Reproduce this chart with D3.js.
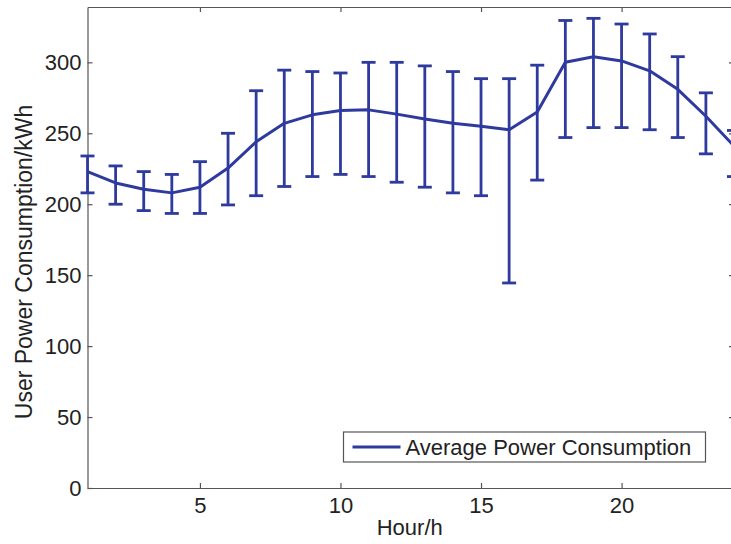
<!DOCTYPE html>
<html>
<head>
<meta charset="utf-8">
<script src="https://cdnjs.cloudflare.com/ajax/libs/d3/7.8.5/d3.min.js"></script>
<style>
  body { margin: 0; background: #fff; }
  svg { display: block; font-family: "Liberation Sans", Arial, sans-serif; }
  .axis text { fill: #222; font-size: 22px; }
  .axis path, .axis line { stroke: #555; stroke-width: 1.2; }
</style>
</head>
<body>
<script>
// hourly averages
let hours = [1, 2, 3, 4, 5, 6, 7, 8, 9, 10, 11, 12, 13, 14, 15, 16, 17, 18, 19, 20, 21, 22, 23, 24];
let meanVals  = [223, 215, 210.5, 208, 212, 225.5, 244, 257, 263, 266, 266.5, 263.5, 260, 257, 255, 252.5, 265, 300, 304, 301, 294, 281, 262, 241];
let upperVals = [234, 227, 223, 221, 230, 250, 280, 294.5, 293.5, 292.5, 300, 300, 297.5, 293.5, 288.5, 288.5, 298, 329.5, 331, 327, 320, 304, 278.5, 252];
let lowerVals = [208, 200, 195.5, 193.5, 193.5, 199.5, 206, 212.5, 219.5, 221, 219.5, 215.5, 212, 208, 206, 144.5, 217, 247, 254, 254, 252.5, 247, 235.5, 219.5];
let xTicks = [5, 10, 15, 20];
let yTicks = [0, 50, 100, 150, 200, 250, 300];
let seriesName = "Average Power Consumption";

let W = 731, H = 544;
let margin = {left: 87.5, top: 7, right: -3, bottom: 56};
let w = W - margin.left - margin.right;
let h = H - margin.top - margin.bottom;
let blue = "#2e3a9e";

let svg = d3.select("body").append("svg").attr("width", W).attr("height", H);
let g = svg.append("g").attr("transform", "translate(" + margin.left + "," + margin.top + ")");

let x = d3.scaleLinear().domain([1, 24]).range([0, w]);
let y = d3.scaleLinear().domain([0, 339]).range([h, 0]);

// axes with inward ticks on all four sides (matlab box)
g.append("g").attr("class", "axis")
  .attr("transform", "translate(0," + h + ")")
  .call(d3.axisBottom(x).tickValues(xTicks).tickSize(-5).tickPadding(9).tickSizeOuter(0));
g.append("g").attr("class", "axis")
  .call(d3.axisTop(x).tickValues(xTicks).tickSize(-5).tickFormat("").tickSizeOuter(0));
g.append("g").attr("class", "axis")
  .call(d3.axisLeft(y).tickValues(yTicks).tickSize(-5).tickPadding(6).tickSizeOuter(0));
g.append("g").attr("class", "axis")
  .attr("transform", "translate(" + w + ",0)")
  .call(d3.axisRight(y).tickValues(yTicks).tickSize(-5).tickFormat("").tickSizeOuter(0));

let data = hours.map((d, i) => ({hour: d, mean: meanVals[i], hi: upperVals[i], lo: lowerVals[i]}));

// error bars
let bars = g.append("g").selectAll("g").data(data).enter().append("g")
  .attr("stroke", blue).attr("stroke-width", 2.8);
bars.append("line")
  .attr("x1", d => x(d.hour)).attr("x2", d => x(d.hour))
  .attr("y1", d => y(d.hi)).attr("y2", d => y(d.lo));
bars.append("line")
  .attr("x1", d => x(d.hour) - 7).attr("x2", d => x(d.hour) + 7)
  .attr("y1", d => y(d.hi)).attr("y2", d => y(d.hi));
bars.append("line")
  .attr("x1", d => x(d.hour) - 7).attr("x2", d => x(d.hour) + 7)
  .attr("y1", d => y(d.lo)).attr("y2", d => y(d.lo));

let line = d3.line().x(d => x(d.hour)).y(d => y(d.mean));
g.append("path").datum(data)
  .attr("fill", "none").attr("stroke", blue).attr("stroke-width", 3)
  .attr("stroke-linejoin", "round")
  .attr("d", line);

// legend
let lg = svg.append("g").attr("transform", "translate(343.5,432)");
lg.append("rect").attr("width", 362).attr("height", 30)
  .attr("fill", "#fff").attr("stroke", "#555").attr("stroke-width", 1.2);
lg.append("line").attr("x1", 9).attr("x2", 57).attr("y1", 15).attr("y2", 15)
  .attr("stroke", blue).attr("stroke-width", 3);
lg.append("text").attr("x", 62).attr("y", 23)
  .attr("font-size", 22).attr("fill", "#222").text(seriesName);

// titles
svg.append("text").attr("x", margin.left + w / 2 - 1).attr("y", 535)
  .attr("text-anchor", "middle").attr("font-size", 22).attr("fill", "#222")
  .text("Hour/h");
svg.append("text")
  .attr("transform", "translate(32,262) rotate(-90)")
  .attr("text-anchor", "middle").attr("font-size", 23).attr("fill", "#222")
  .text("User Power Consumption/kWh");
</script>
</body>
</html>
